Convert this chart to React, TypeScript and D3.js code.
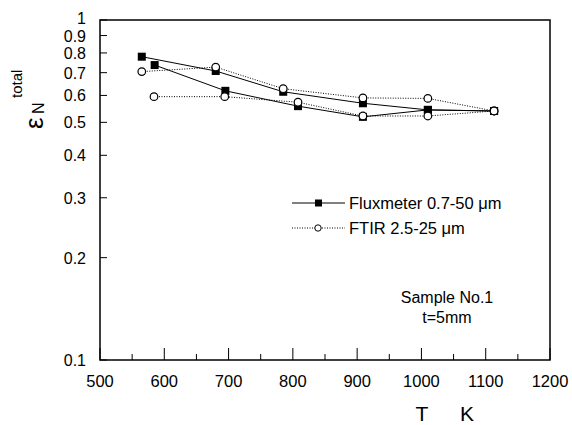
import React, { useEffect, useRef } from "react";
import * as d3 from "d3";

// two runs for each method (x = temperature K, y = total normal emissivity)
const fluxA_T = [565, 680, 785, 909, 1010, 1113];
const fluxA_E = [0.78, 0.708, 0.615, 0.569, 0.544, 0.54];
const fluxB_T = [585, 695, 808, 909, 1010, 1113];
const fluxB_E = [0.737, 0.619, 0.558, 0.519, 0.544, 0.54];
const ftirC_T = [565, 680, 785, 909, 1010, 1113];
const ftirC_E = [0.705, 0.727, 0.628, 0.59, 0.588, 0.54];
const ftirD_T = [584, 694, 808, 909, 1010, 1113];
const ftirD_E = [0.595, 0.595, 0.573, 0.522, 0.522, 0.54];

const yTicks = [0.1, 0.2, 0.3, 0.4, 0.5, 0.6, 0.7, 0.8, 0.9, 1];
const yTickLabels = ["0.1", "0.2", "0.3", "0.4", "0.5", "0.6", "0.7", "0.8", "0.9", "1"];
const xMajor = [500, 600, 700, 800, 900, 1000, 1100, 1200];
const xMinor = [550, 650, 750, 850, 950, 1050, 1150];

const W = 572, H = 425;
const FONT = '"Liberation Sans", Arial, sans-serif';

const App = () => {
  const ref = useRef<SVGSVGElement>(null);

  useEffect(() => {
    const svg = d3.select(ref.current);
    svg.selectAll("*").remove();

    const x = d3.scaleLinear().domain([500, 1200]).range([100, 550]);
    const y = d3.scaleLog().domain([0.1, 1]).range([360, 20]);

    const zip = (xs: number[], ys: number[]) => xs.map((t, i) => [t, ys[i]] as [number, number]);
    const line = d3.line<[number, number]>().x(d => x(d[0])).y(d => y(d[1]));

    //frame
    svg.append("rect")
      .attr("x", 100).attr("y", 20)
      .attr("width", 450).attr("height", 340)
      .attr("fill", "none").attr("stroke", "black").attr("stroke-width", 1.5);

    //y ticks
    yTicks.forEach((v, i) => {
      svg.append("line")
        .attr("x1", 100).attr("x2", 107)
        .attr("y1", y(v)).attr("y2", y(v))
        .attr("stroke", "black").attr("stroke-width", 1);
      svg.append("text")
        .attr("x", 86).attr("y", y(v) + (v === 1 ? 4 : 6))
        .attr("text-anchor", "end")
        .attr("font-family", FONT).attr("font-size", 16)
        .text(yTickLabels[i]);
    });

    //x ticks
    xMajor.forEach(v => {
      svg.append("line")
        .attr("x1", x(v)).attr("x2", x(v))
        .attr("y1", 360).attr("y2", 348)
        .attr("stroke", "black").attr("stroke-width", 1);
      svg.append("text")
        .attr("x", x(v)).attr("y", 387)
        .attr("text-anchor", "middle")
        .attr("font-family", FONT).attr("font-size", 16.5)
        .text(String(v));
    });
    xMinor.forEach(v => {
      svg.append("line")
        .attr("x1", x(v)).attr("x2", x(v))
        .attr("y1", 360).attr("y2", 354)
        .attr("stroke", "black").attr("stroke-width", 1);
    });

    //axis titles
    svg.append("text")
      .attr("x", 422).attr("y", 421)
      .attr("text-anchor", "middle")
      .attr("font-family", FONT).attr("font-size", 21)
      .text("T");
    svg.append("text")
      .attr("x", 467).attr("y", 421)
      .attr("text-anchor", "middle")
      .attr("font-family", FONT).attr("font-size", 21)
      .text("K");

    const yl = svg.append("g").attr("transform", "translate(43,129) rotate(-90)");
    yl.append("text").attr("x", 0).attr("y", 0)
      .attr("font-family", FONT).attr("font-size", 26).text("ε");
    yl.append("text").attr("x", 15).attr("y", 1)
      .attr("font-family", FONT).attr("font-size", 16).text("N");
    yl.append("text").attr("x", 31).attr("y", -21)
      .attr("font-family", FONT).attr("font-size", 15).text("total");

    //data lines
    const drawLine = (xs: number[], ys: number[], dotted: boolean) => {
      svg.append("path")
        .attr("d", line(zip(xs, ys)))
        .attr("fill", "none")
        .attr("stroke", "black")
        .attr("stroke-width", 1)
        .attr("stroke-dasharray", dotted ? "1,1.5" : null);
    };
    drawLine(fluxA_T, fluxA_E, false);
    drawLine(fluxB_T, fluxB_E, false);
    drawLine(ftirC_T, ftirC_E, true);
    drawLine(ftirD_T, ftirD_E, true);

    const squares = (xs: number[], ys: number[]) => {
      zip(xs, ys).forEach(d => {
        svg.append("rect")
          .attr("x", x(d[0]) - 4).attr("y", y(d[1]) - 4)
          .attr("width", 8).attr("height", 8)
          .attr("fill", "black");
      });
    };
    const circles = (xs: number[], ys: number[]) => {
      zip(xs, ys).forEach(d => {
        svg.append("circle")
          .attr("cx", x(d[0])).attr("cy", y(d[1])).attr("r", 3.8)
          .attr("fill", "white").attr("stroke", "black").attr("stroke-width", 1.2);
      });
    };
    squares(fluxA_T, fluxA_E);
    squares(fluxB_T, fluxB_E);
    circles(ftirC_T, ftirC_E);
    circles(ftirD_T, ftirD_E);

    //legend
    const lg = svg.append("g");
    lg.append("line").attr("x1", 292).attr("x2", 345).attr("y1", 203).attr("y2", 203)
      .attr("stroke", "black").attr("stroke-width", 1);
    lg.append("rect").attr("x", 315).attr("y", 199.5).attr("width", 7).attr("height", 7).attr("fill", "black");
    lg.append("text").attr("x", 349).attr("y", 209)
      .attr("font-family", FONT).attr("font-size", 16.5).text("Fluxmeter 0.7-50 μm");
    lg.append("line").attr("x1", 292).attr("x2", 345).attr("y1", 228).attr("y2", 228)
      .attr("stroke", "black").attr("stroke-width", 1).attr("stroke-dasharray", "1,1.5");
    lg.append("circle").attr("cx", 318).attr("cy", 228).attr("r", 3.2)
      .attr("fill", "white").attr("stroke", "black").attr("stroke-width", 1);
    lg.append("text").attr("x", 349).attr("y", 234)
      .attr("font-family", FONT).attr("font-size", 16.5).text("FTIR 2.5-25 μm");

    //sample note
    svg.append("text").attr("x", 447).attr("y", 303).attr("text-anchor", "middle")
      .attr("font-family", FONT).attr("font-size", 16).text("Sample No.1");
    svg.append("text").attr("x", 447).attr("y", 323).attr("text-anchor", "middle")
      .attr("font-family", FONT).attr("font-size", 16).text("t=5mm");
  }, []);

  return (
    <svg ref={ref} width={W} height={H}
      style={{ position: "absolute", left: 0, top: 0, background: "white" }} />
  );
};

export default App;
